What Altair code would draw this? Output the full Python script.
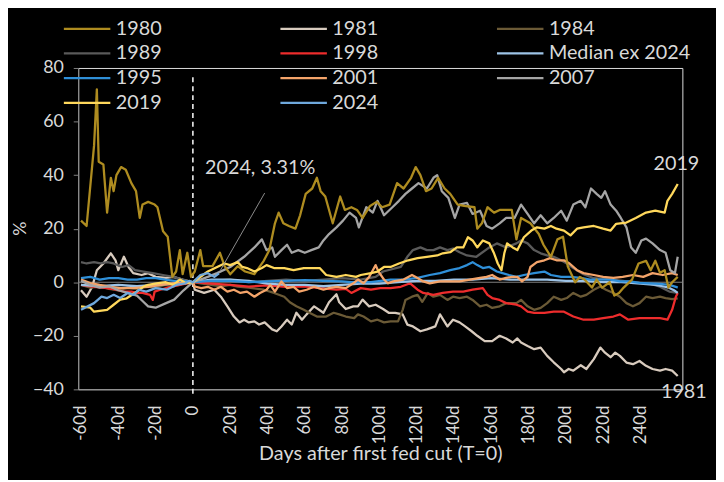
import altair as alt
import pandas as pd

# ---------------- data (day, % change) ----------------
S1980 = [(-60,23),(-57,21),(-53,51),(-51.5,72),(-50.5,45),(-48,44),(-46,26),(-44,39),(-42.5,34),(-41,40),
         (-38.5,43),(-36,42),(-33,37),(-30.5,34),(-28.5,24),(-27,29),(-24,30),(-20.5,29),(-19,28),(-16,19),
         (-13.5,17),(-11,2),(-9,4),(-7,12),(-5.5,3),(-3,11),(-1,2),(1,4),(4,12),(5.5,6),(8,6),(10.5,6),
         (14.5,11),(17,6),(20,3),(24,6),(28,4),(33,3),(38,8),(41,12),(44,22),(46,26),(48.5,22),(51.5,21),
         (55,20),(57.5,25),(60.5,33),(64,35),(66.5,39),(68.5,34),(71,32),(75,22),(79,32),(81.5,27),(85,28),
         (88,27),(91,24),(95,28.5),(98.5,30),(101.5,28),(105.5,29),(109.5,37),(113,35),(117,39),(119.5,43),
         (122,40),(125,34),(128,35),(131.5,39),(135,35),(138,33),(142,29),(145.5,28.5),(151,28),(152.5,20),
         (155,22),(158,28),(161.5,26),(164.5,27),(168,27),(171,27),(173.5,16),(176,24),(181,22),(185.5,18),
         (188,14),(192,9.5),(195.5,16),(198.5,17),(201,6),(205,0),(207.5,2),(210,1),(214,-2),(216.5,1),
         (219.5,-2),(223.5,0),(226,-5),(228.5,-4),(231,-2),(235.5,1),(239,7),(243,8),(245.5,4.5),(248,8),
         (250.5,3.5),(253,4.5),(255,-2),(257,0),(260,2)]
S1981 = [(-60,-3),(-57,-5.4),(-54,-1.7),(-51.5,4.5),(-48,7),(-44,10.8),(-41.5,8.2),(-40,4.5),(-37,9.5),
         (-34.5,5.7),(-32,3.4),(-27.5,2.7),(-24,3.4),(-20,2),(-14.5,1.6),(-10.5,2),(-5.5,1),(0,0),(1,-2.8),
         (6,-4),(11.5,-2.8),(15,-5.4),(18.5,-9),(22,-12.8),(25,-15),(27.5,-14),(30,-15),(33,-14.6),
         (35.5,-15.8),(38.5,-15),(42.5,-17.6),(45,-18.3),(47.5,-16.5),(50.5,-14),(53,-15.8),(55.5,-11.4),
         (58.5,-14),(61,-12),(65,-9),(70,-11.4),(73,-7.5),(77,-4.5),(78.5,-7.5),(82,-10),(86,-9),(88.5,-9),
         (91,-6.5),(94.5,-9),(98,-8.4),(102,-10),(105,-11.4),(108.5,-11.4),(112.5,-12),(115,-15.8),
         (118,-16.5),(122,-18.3),(125.5,-17.6),(130,-16.5),(132.5,-12),(136.5,-16.5),(139.5,-14),(143,-15),
         (146,-16.5),(149.5,-18.3),(152.5,-20),(156.5,-22),(160.5,-22),(164.5,-20),(168,-21),(171.5,-22.5),
         (174,-21),(176,-22.5),(179.5,-23.8),(183,-25),(186.5,-24.4),(190,-27.5),(193.5,-29.9),(197.5,-32.4),
         (199,-33.6),(201.5,-32.4),(204,-33),(208,-31),(211,-32.4),(215,-28.7),(218.5,-24.4),(221,-26.3),
         (224,-28),(226.5,-26.3),(229,-27.5),(232.5,-30),(236,-30.6),(239.5,-29.4),(243,-31.2),(246.5,-32.4),
         (250.5,-33),(253.5,-32.4),(257,-33),(260,-35)]
S1984 = [(-60,-1),(-55,-2),(-50,-1.5),(-45,-2.5),(-40,-3),(-35,-2),(-30,-2.5),(-25,-1.5),(-20,-2),(-15,-1),
         (-10,-1.5),(-5,-0.5),(0,0),(5,-0.5),(10,-1),(15,-1.5),(20,-1),(24,-1.6),(30,-2),(38,-2.8),(43.5,-4),
         (49,-5.4),(52,-7.5),(55.5,-9),(59.5,-10.3),(62.5,-11.4),(66.5,-12.8),(71.5,-12.8),(75.5,-11.4),
         (78.5,-12),(82,-12.8),(86.5,-13.4),(88.5,-12),(91.5,-12.8),(95.5,-14.6),(99,-14),(102.5,-15),
         (106,-14.6),(110,-14.6),(112.5,-10.3),(114,-6.6),(117.5,-5.4),(120.5,-4.7),(123,-7.3),(126,-4),
         (129,-5.4),(132.5,-4.7),(136.5,-6.6),(139.5,-5.4),(143,-5.9),(147,-5.4),(150,-6.6),(154,-9),
         (157.5,-8.4),(160.5,-9.6),(164.5,-9),(168,-7.8),(173.5,-7.8),(176,-6.6),(179.5,-9),(183,-10.3),
         (186.5,-9.6),(190,-7.8),(193.5,-5.4),(197.5,-6.6),(200.5,-5.9),(204,-4),(208,-5.4),(211,-4.7),
         (215,-2.8),(218.5,-1.6),(221.5,-2.8),(225.5,-4),(229,-5.4),(232.5,-7.8),(236,-9),(239.5,-7.8),
         (243,-5.4),(246.5,-5.9),(250.5,-5.4),(253.5,-5.9),(257,-6.3),(260,-6)]
S1989 = [(-60,7.5),(-57,7),(-53,7.5),(-49.5,7),(-46,7.5),(-42.5,7),(-38,5.7),(-34.5,6.4),(-31,4.5),(-26.5,4),
         (-21.5,3.4),(-16,2.7),(-10.5,2),(-5.5,1),(0,0),(10,0.5),(20,1),(30,0),(40,0.5),(50,1),(60,0.5),
         (70,1),(80,1.5),(90,1),(98,2),(102,4),(111.5,5.7),(115,9.5),(118,12),(122,13),(125.5,12),(129,12),
         (132.5,13),(136.5,12),(139.5,12.6),(143,11.2),(147,10),(152,9.5),(159,13),(163,14.5),(168,13),
         (173.5,14.5),(176,15.6),(179.5,14.5),(183,12),(186.5,10.8),(190,10),(193.5,9.5),(197.5,8.2),
         (200.5,7),(204,5.3),(209.5,3),(215,1.5),(225,1),(236,0),(245,-0.5),(250.5,-1.7),(255.5,-3.5),(260,-4)]
S1998 = [(-60,-1),(-53,-1.7),(-46,-2.2),(-41,-2.8),(-37,-3.5),(-33,-3.5),(-30,-4),(-27,-4),(-23,-4.7),
         (-21.5,-6.6),(-20.5,-3.5),(-17.5,-2.8),(-12,-1.7),(-7,-1),(0,0),(10,-0.5),(20,-1),(30,-1.6),
         (40,-1.2),(50,-1.7),(60,-1.5),(68,-2.2),(77,-2.8),(82,-2.5),(85,-4),(90,-2.2),(95.5,-2.8),
         (100.5,-2.2),(106,-2.2),(111.5,-1.7),(116.5,-0.4),(120.5,-2.8),(123.5,-4),(129,-4.7),(134,-4),
         (139.5,-3.5),(145,-3.5),(150,-2.8),(155.5,-2.2),(158,-4.7),(160.5,-5.9),(164.5,-6.6),(168,-7.8),
         (173.5,-8.4),(176,-9),(179.5,-11),(183,-11.4),(188.5,-11.4),(193.5,-11),(199,-11),(204,-12.8),
         (209.5,-14),(215,-14),(220,-13.4),(225.5,-12.8),(229,-12),(233.5,-14),(239.5,-13.4),(245,-13.4),
         (250.5,-13.4),(254.5,-14),(257,-10.3),(259,-5.4),(260,-4)]
SMEDIAN = [(-60,-1),(-50,-1.5),(-40,-1),(-30,-1.5),(-20,-1),(-10,-0.5),(0,0),(10,1),(20,1),(30,0.5),
           (40,-0.5),(50,-1),(60,-1),(70,-1.5),(80,-1),(90,-0.5),(100,-0.5),(110,0),(120,0.5),(130,0.5),
           (140,1),(150,1),(160,1.5),(170,1),(180,1),(190,1),(200,0.5),(210,0.5),(220,0),(230,0),
           (240,-0.5),(248,-1),(252,-1.5),(255,-2),(258,-3),(260,-4)]
S1995 = [(-60,1.5),(-55,2),(-50,1),(-45,1.5),(-40,1.5),(-35,1),(-30,1),(-25,1.5),(-20,1.5),(-15,1),(-10,0.5),
         (-5,0.5),(0,0),(10,0.5),(20,0.5),(30,0),(40,0.3),(50,0.5),(60,0.8),(70,0.5),(80,0.3),(85,0),
         (95.5,0),(106,1),(113,1),(120.5,1.6),(127,2.7),(132.5,3.4),(138,4.5),(143,5.3),(147,6.4),(150,7.5),
         (152.5,6.4),(155.5,5.3),(159,5.7),(163,4),(166,3.4),(169.5,2.7),(173.5,2),(177.5,2.7),(183,3.4),
         (188.5,4),(192,2.7),(197.5,2),(202.5,2),(208,1.6),(213,1),(218.5,1),(224,1),(229,0.3),(234.5,0.3),
         (239.5,-0.2),(245,-0.4),(250.5,-0.6),(255.5,-1),(259,-1.7),(260,-2)]
S2001 = [(-60,1),(-55,-0.3),(-50,-1),(-44,-1.7),(-39,-2.2),(-32,-2.2),(-24,-1.7),(-17,-1),(-10,-0.3),
         (-3,-0.3),(0,0),(1,-1.6),(4.5,-2.2),(8,-1.7),(11.5,-2.8),(15,-1.7),(18.5,-3.5),(22,-2.8),
         (25.5,-4),(29,-3.5),(33,-5.4),(36,-4),(39.5,-2.8),(41.5,-1),(44,-3.5),(47.5,0.3),(50.5,-2.2),
         (54,-1.7),(57,-3.5),(61,-2.8),(65,-1.7),(70,-2.8),(73,-2.2),(77,-1.7),(82,-2.2),(86,-0.4),
         (88.5,1),(91.5,-0.4),(94.5,2),(96.5,4.5),(98,6.4),(99.5,4),(102.5,1),(104.5,-0.4),(107.5,0.3),
         (113,1),(117.5,2.7),(120.5,1.6),(123.5,0.3),(127,-0.4),(132.5,0.3),(138,0.3),(143,0.3),(148.5,1),
         (154,1.6),(157.5,2),(160.5,2.7),(164.5,1),(168,1.6),(171,2),(174,2),(176.5,0.3),(179.5,2),
         (181,5.7),(184.5,7.5),(188.5,8.2),(191.5,9),(195,8.2),(199,8.2),(202,7),(206,4.5),(209.5,3.4),
         (215,2.7),(220,2),(225.5,1.6),(230.5,2),(236,2.7),(241.5,2),(246.5,3.4),(252,2.7),(257,3.4),(260,2.7)]
S2007 = [(-60,0.5),(-55,-1),(-50,-2),(-45,-1.5),(-40,-3),(-35,-4),(-30,-5),(-27,-7),(-24,-9),(-20,-9.5),
         (-15,-8),(-10,-6.5),(-5,-3),(0,0),(4,1),(8,2),(13,3.4),(20,5.7),(27.5,9.5),(33,13),(37,16),
         (39.5,12),(42.5,13),(44,9.5),(47.5,12),(50.5,14),(53,11),(56.5,12),(60,11),(63.5,12),(67.5,13),
         (70,15.6),(73,18),(77,20.5),(80.5,23),(84,26),(87.5,24),(89,20.5),(93,28),(96.5,26),(99,30.4),
         (102.5,25),(107,28),(110.5,30.4),(114,33),(117.5,35),(121,37),(125.5,35),(129,39),(131,40),
         (133.5,34),(137,31.5),(140.5,24),(143,29),(147,29.6),(150,25.5),(154,26.7),(157.5,21),(160.5,20),
         (164.5,22),(168,24),(172.5,24),(176,29),(179.5,25.5),(183,22),(186.5,25),(190,22),(193.5,24),
         (197.5,26.7),(200.5,23),(204,29),(208,30.4),(210.5,28),(213.5,35),(216.5,33),(219,31.5),(221,34),
         (224,29),(227,26.7),(229.5,24),(232.5,20.5),(235,13),(237.5,11),(240.5,15.6),(243,16.3),
         (246.5,14.5),(250.5,12),(253.5,11),(256,4.5),(258.5,3.4),(260,9.5)]
S2019 = [(-60,-9),(-55,-9.5),(-53,-11),(-46,-10.3),(-42.5,-8.4),(-39,-6.5),(-35.5,-6),(-29,-3),(-26.5,-1.6),
         (-24,-1),(-19.5,-0.4),(-14.5,0),(-10.5,-1),(-7,1),(-4,-0.3),(0,0),(8,4),(13,5.7),(17,7),(20,6.4),
         (24,7.5),(26.5,5.7),(29,5.3),(33,4),(37,5.3),(39.5,6.4),(43.5,5.3),(49,5.3),(54,4.5),(59.5,5.3),
         (64.5,5.3),(68,5.3),(71.5,2.7),(77,2),(82,2.7),(87.5,2),(90,2.7),(95.5,3.4),(99,4),(102.5,5.7),
         (106,5.7),(110.5,7),(115.5,8.2),(120.5,9),(125.5,9.5),(131,10),(134,10.8),(138,11.2),(141.5,13),
         (145,13),(147.5,16.8),(150,15.6),(152.5,13),(155.5,15.6),(159,14.5),(161.5,10.8),(163.5,7),
         (165.5,4.5),(167,10.8),(168.5,14.5),(171.5,13),(174,12),(177.5,16.8),(181.5,19.3),(184.5,20.5),
         (188.5,20),(192,21),(195,20),(199,19.3),(202.5,17.5),(206,20),(209.5,20.5),(215,21),(220,20),
         (224,19.3),(227,21.8),(232.5,22.3),(237.5,24),(243,26),(248,26.7),(253,26),(254.5,30.4),(257,33),
         (260,36.7)]
S2024 = [(-60,-10.3),(-53,-7.8),(-49,-5.4),(-46,-5.9),(-42.5,-4.7),(-39,-5.9),(-35,-4),(-32,-4.7),(-29,-2.8),
         (-25,-3.5),(-20,-2.2),(-14,-2.8),(-9,-1),(-4,-0.4),(-2,0.5),(0,0),(4,2.7),(8,3.4),(11.5,2),(14,3.31)]

# legend is laid out column by column (4 rows x 3 columns)
SERIES = ["1980", "1989", "1995", "2019", "1981", "1998", "2001", "2024", "1984", "Median ex 2024", "2007"]
SERIES_DATA = [S1980, S1989, S1995, S2019, S1981, S1998, S2001, S2024, S1984, SMEDIAN, S2007]
COLORS = ["#AE8C20", "#5A5A5A", "#2F8FD8", "#FFD85C", "#D8CBBE", "#EE2C2C",
          "#F4A46A", "#6FA8DC", "#6B5A36", "#9DC3E6", "#A5A5A5"]
WIDTHS = [2.3, 2.3, 2.3, 2.3, 2.3, 2.3, 2.3, 4.5, 2.3, 2.3, 2.3]
DRAW_ORDER = ["1981", "1984", "1989", "1998", "Median ex 2024", "1995", "2001", "2007", "1980", "2019", "2024"]

TICK_DAYS = [-60, -40, -20, 0, 20, 40, 60, 80, 100, 120, 140, 160, 180, 200, 220, 240]
TICK_LABELS = ["-60d", "-40d", "-20d", "0", "20d", "40d", "60d", "80d", "100d", "120d",
               "140d", "160d", "180d", "200d", "220d", "240d"]
Y_TICKS = [-40, -20, 0, 20, 40, 60, 80]

ANNOT_TEXT = ["2024, 3.31%", "2019", "1981"]
ANNOT_DAY = [6.5, 247, 251]
ANNOT_VAL = [42.5, 44, -41]
CONNECTOR = {"d1": [38.5], "v1": [33.3], "d2": [14.8], "v2": [4.5]}

# ---------------- build tables ----------------
data_by_name = dict(zip(SERIES, SERIES_DATA))
rows = []
for name in DRAW_ORDER:
    for d, v in data_by_name[name]:
        rows.append({"series": name, "day": d, "value": v})
df = pd.DataFrame(rows)

label_expr = "''"
for v, lab in reversed(list(zip(TICK_DAYS, TICK_LABELS))):
    label_expr = f"datum.value == {v} ? '{lab}' : ({label_expr})"

FONT = "Lato"
TXT = "#D9D9D9"

x_scale = alt.Scale(domain=[-61.5, 262.5], nice=False, zero=False)
y_scale = alt.Scale(domain=[-40, 80], nice=False, zero=False)

lines = alt.Chart(df).mark_line(strokeJoin="round").encode(
    x=alt.X("day:Q", scale=x_scale,
            axis=alt.Axis(values=TICK_DAYS, labelExpr=label_expr, labelAngle=-90,
                          labelFontSize=17, labelColor=TXT, labelPadding=16,
                          ticks=False, domain=False, grid=False,
                          title="Days after first fed cut (T=0)", titleFontSize=20,
                          titleFontWeight="normal", titleColor=TXT, titlePadding=0)),
    y=alt.Y("value:Q", scale=y_scale,
            axis=alt.Axis(values=Y_TICKS, labelFontSize=18, labelColor=TXT, labelPadding=10,
                          tickSize=5, tickColor="#7F7F7F", domainColor="#7F7F7F", grid=False,
                          title="%", titleFontSize=18, titleFontWeight="normal", titleColor=TXT,
                          titleX=-58, titleY=162, titleAngle=-90, titleAlign="center",
                          titleBaseline="middle")),
    color=alt.Color("series:N", scale=alt.Scale(domain=SERIES, range=COLORS),
                    legend=alt.Legend(title=None, orient="none", legendX=-16, legendY=-52,
                                      columns=3, symbolType="stroke", symbolSize=2209,
                                      symbolStrokeWidth=3, clipHeight=24.5, rowPadding=0,
                                      columnPadding=118, labelOffset=4, labelFontSize=20,
                                      labelColor=TXT, padding=0)),
    strokeWidth=alt.StrokeWidth("series:N", scale=alt.Scale(domain=SERIES, range=WIDTHS), legend=None),
)

zero_line = alt.Chart(pd.DataFrame({"z": [0]})).mark_rule(color="#7F7F7F", strokeWidth=1).encode(
    y=alt.Y("z:Q", scale=y_scale)
)

vline = alt.Chart(pd.DataFrame({"d": [0], "top": [76.5], "bot": [-42.7]})).mark_rule(
    color="#FFFFFF", strokeWidth=1.5, strokeDash=[5, 4]
).encode(x=alt.X("d:Q", scale=x_scale), y=alt.Y("top:Q", scale=y_scale), y2="bot:Q")

connector = alt.Chart(pd.DataFrame(CONNECTOR)).mark_rule(color="#8C8C8C", strokeWidth=1).encode(
    x=alt.X("d1:Q", scale=x_scale), y=alt.Y("v1:Q", scale=y_scale), x2="d2:Q", y2="v2:Q"
)

annot = alt.Chart(pd.DataFrame({"t": ANNOT_TEXT, "d": ANNOT_DAY, "v": ANNOT_VAL})).mark_text(
    align="left", baseline="middle", fontSize=20, color=TXT, font=FONT
).encode(x=alt.X("d:Q", scale=x_scale), y=alt.Y("v:Q", scale=y_scale), text="t:N")

chart = alt.layer(zero_line, vline, lines, connector, annot).properties(
    width=611, height=325,
    autosize=alt.AutoSizeParams(type="none"),
    padding={"left": 71, "top": 58, "right": 34, "bottom": 89},
    background="#000000",
).configure_view(strokeWidth=0).configure(font=FONT)

chart.save("out.html", embed_options={"renderer": "svg", "actions": False})
